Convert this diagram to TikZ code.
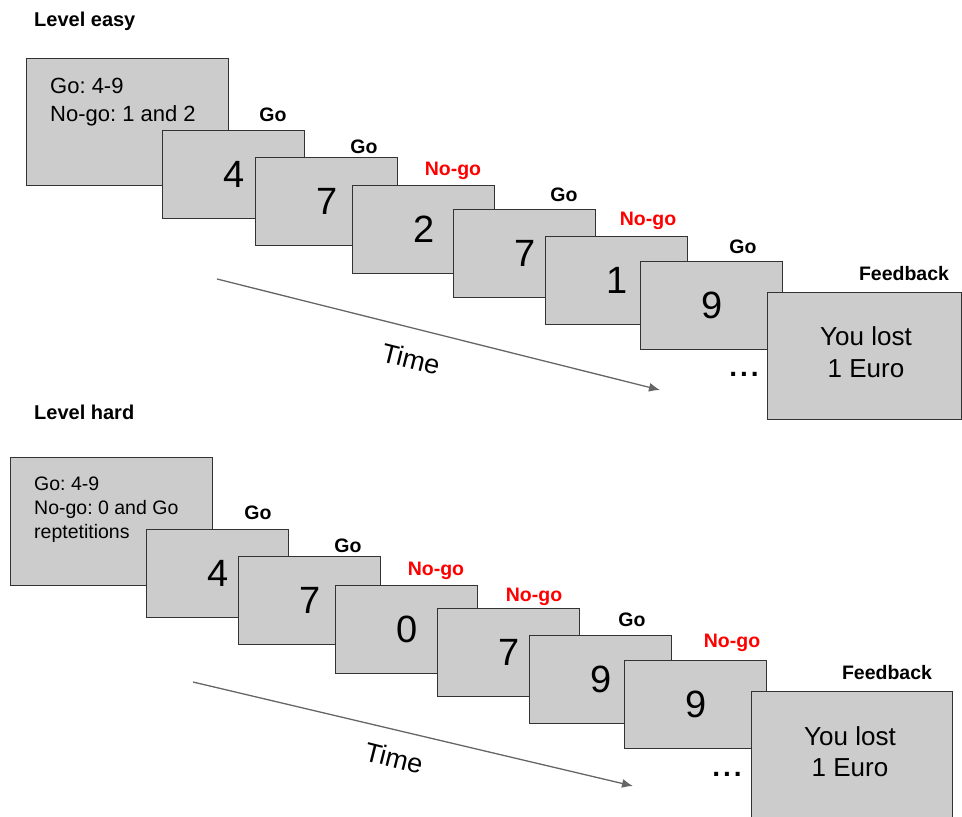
\documentclass[tikz,border=0pt]{standalone}
\usepackage{fontspec}
\setmainfont{Liberation Sans}
\usetikzlibrary{arrows.meta}
\frenchspacing
\definecolor{boxfill}{HTML}{CCCCCC}
\definecolor{boxline}{HTML}{333333}
\definecolor{arrowgray}{HTML}{666666}
\definecolor{nogored}{HTML}{FF0000}
\tikzset{
  stim/.style={draw=boxline, fill=boxfill, line width=1.3pt, minimum width=142pt, minimum height=88pt, inner sep=0pt, anchor=north west, font=\fontsize{38}{40}\selectfont},
  bigbox/.style={draw=boxline, fill=boxfill, line width=1.3pt, inner sep=0pt, anchor=north west},
  golabel/.style={anchor=base, inner sep=0pt, font=\fontsize{19.5}{22}\selectfont\bfseries},
  nogolabel/.style={golabel, text=nogored},
  title/.style={anchor=base west, inner sep=0pt, font=\fontsize{20}{24}\selectfont\bfseries},
  instrA/.style={anchor=base west, inner sep=0pt, font=\fontsize{22}{26}\selectfont\frenchspacing, text=black},
  instrB/.style={anchor=base west, inner sep=0pt, font=\fontsize{19.5}{23}\selectfont\frenchspacing, text=black},
  fbtext/.style={anchor=base, inner sep=0pt, font=\fontsize{26}{30}\selectfont, text=black},
  timeaxis/.style={draw=arrowgray, line width=1.3pt, -{Latex[length=11pt,width=9pt]}},
  timetext/.style={inner sep=0pt, rotate=-14, font=\fontsize{27}{30}\selectfont},
  dots/.style={anchor=base, inner sep=0pt, font=\fontsize{28}{30}\selectfont\bfseries}
}
\newcommand{\spdots}{.\kern3pt.\kern3pt.}
\begin{document}
\begin{tikzpicture}[x=1pt,y=-1pt]
\useasboundingbox (0,0) rectangle (962,817);

% ---------------- Level easy ----------------
\node[title] (t1) at (34,26) {Level easy};
\node[bigbox, minimum width=202pt, minimum height=127pt] (i1) at (26,58) {};
\node[instrA] (i1a) at (50,93) {Go: 4-9};
\node[instrA] (i1b) at (50,121) {No-go: 1 and 2};

\node[golabel] (l1) at (273,121) {Go};
\node[stim] (a1) at (162,130) {4};
\node[golabel] (l2) at (364,153) {Go};
\node[stim] (a2) at (255,157) {7};
\node[nogolabel] (l3) at (453,175) {No-go};
\node[stim] (a3) at (352,185) {2};
\node[golabel] (l4) at (564,201) {Go};
\node[stim] (a4) at (453,209) {7};
\node[nogolabel] (l5) at (648,225) {No-go};
\node[stim] (a5) at (545,236) {1};
\node[golabel] (l6) at (743,253) {Go};
\node[stim] (a6) at (640,261) {9};

\coordinate (s1) at (217,279);
\coordinate (e1) at (660,390);
\draw[timeaxis] (s1) -- (e1);
\node[timetext] (tm1) at (411,359) {Time};
\node[dots] (d1) at (744,376) {\spdots};

\node[golabel] (l7) at (904,280) {Feedback};
\node[bigbox, minimum width=194pt, minimum height=127pt] (f1) at (767,292) {};
\node[fbtext] (f1a) at (866,345) {You lost};
\node[fbtext] (f1b) at (866,377) {1 Euro};

% ---------------- Level hard ----------------
\node[title] (t2) at (34,419) {Level hard};
\node[bigbox, minimum width=202pt, minimum height=128pt] (i2) at (10,457) {};
\node[instrB] (i2a) at (34,490) {Go: 4-9};
\node[instrB] (i2b) at (34,514) {No-go: 0 and Go};
\node[instrB] (i2c) at (34,538) {reptetitions};

\node[golabel] (m1) at (258,519) {Go};
\node[stim] (b1) at (146,529) {4};
\node[golabel] (m2) at (348,552) {Go};
\node[stim] (b2) at (238,556) {7};
\node[nogolabel] (m3) at (436,575) {No-go};
\node[stim] (b3) at (335,585) {0};
\node[nogolabel] (m4) at (534,601) {No-go};
\node[stim] (b4) at (437,608) {7};
\node[golabel] (m5) at (632,626) {Go};
\node[stim] (b5) at (529,635) {9};
\node[nogolabel] (m6) at (732,647) {No-go};
\node[stim] (b6) at (624,660) {9};

\coordinate (s2) at (193,682);
\coordinate (e2) at (633,786);
\draw[timeaxis] (s2) -- (e2);
\node[timetext] (tm2) at (394,758) {Time};
\node[dots] (d2) at (727,776) {\spdots};

\node[golabel] (m7) at (887,679) {Feedback};
\node[bigbox, minimum width=201pt, minimum height=127pt] (f2) at (751,691) {};
\node[fbtext] (f2a) at (850,745) {You lost};
\node[fbtext] (f2b) at (850,776) {1 Euro};
\end{tikzpicture}
\end{document}
